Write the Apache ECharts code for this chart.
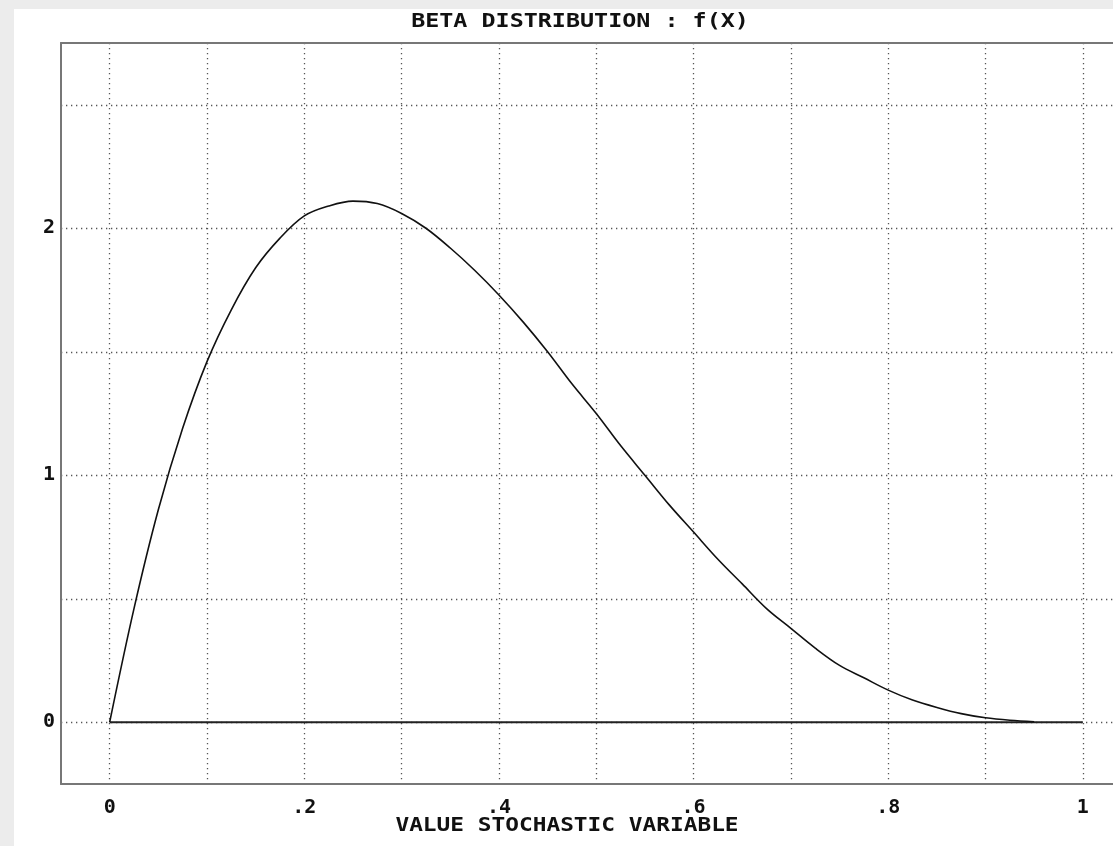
<!DOCTYPE html>
<html>
<head>
<meta charset="utf-8">
<title>Beta distribution</title>
<script src="https://cdn.jsdelivr.net/npm/echarts@6/dist/echarts.min.js"></script>
<style>
  html, body { margin: 0; padding: 0; background: #ececec; overflow: hidden; }
  #beta { position: absolute; left: 14px; top: 9px; width: 1099px; height: 837px; background: #fff; }
</style>
</head>
<body>
<div id="beta"></div>
<script>
// values
const xValues = [0, 0.025, 0.05, 0.075, 0.1, 0.125, 0.15, 0.175, 0.2, 0.225, 0.25, 0.275, 0.3, 0.325, 0.35, 0.375,
  0.4, 0.425, 0.45, 0.475, 0.5, 0.525, 0.55, 0.575, 0.6, 0.625, 0.65, 0.675, 0.7, 0.725, 0.75, 0.775,
  0.8, 0.825, 0.85, 0.875, 0.9, 0.925, 0.95];
const fValues = [0, 0.46, 0.86, 1.19, 1.46, 1.67, 1.84, 1.96, 2.05, 2.09, 2.11, 2.10, 2.06, 2.00, 1.92, 1.83,
  1.73, 1.62, 1.50, 1.37, 1.25, 1.12, 1.00, 0.88, 0.77, 0.66, 0.56, 0.46, 0.38, 0.30, 0.23, 0.18,
  0.13, 0.09, 0.06, 0.035, 0.018, 0.008, 0.002];
const baseX = [0, 1];
const baseY = [0, 0];

// tick / grid positions
const xGridTicks = [0, 0.1, 0.2, 0.3, 0.4, 0.5, 0.6, 0.7, 0.8, 0.9, 1];
const xLabelTicks = [0, 0.2, 0.4, 0.6, 0.8, 1];
const yGridTicks = [0, 0.5, 1, 1.5, 2, 2.5];
const yLabelTicks = [0, 1, 2];

const titleText = 'BETA DISTRIBUTION : f(X)';
const xName = 'VALUE STOCHASTIC VARIABLE';

const monoFont = 'DejaVu Sans Mono';
const frameLine = { show: true, onZero: false, lineStyle: { color: '#777', width: 2 } };

function fmtTick(v) {
  // 0.2 -> ".2"
  let s = String(Math.round(v * 10) / 10);
  if (s.indexOf('0.') === 0) s = s.slice(1);
  return s;
}

let chart = echarts.init(document.getElementById('beta'));
let option = {
  animation: false,
  graphic: [
    {
      type: 'text',
      x: 566, y: 13,
      scaleX: 1.23,
      style: {
        text: titleText,
        font: 'bold 19px "' + monoFont + '"',
        fill: '#111',
        textAlign: 'center',
        textVerticalAlign: 'middle'
      }
    },
    {
      type: 'text',
      x: 553, y: 817,
      scaleX: 1.2,
      style: {
        text: xName,
        font: 'bold 19px "' + monoFont + '"',
        fill: '#111',
        textAlign: 'center',
        textVerticalAlign: 'middle'
      }
    }
  ],
  grid: {
    left: 47,
    top: 34,
    right: 0,
    bottom: 62
  },
  xAxis: [
    {
      type: 'value',
      position: 'bottom',
      min: -0.05,
      max: 1.031,
      axisLine: frameLine,
      axisTick: { show: false, customValues: xGridTicks },
      axisLabel: {
        customValues: xLabelTicks,
        formatter: fmtTick,
        margin: 14,
        color: '#111',
        fontFamily: monoFont,
        fontWeight: 'bold',
        fontSize: 20
      },
      splitLine: {
        show: true,
        lineStyle: { color: '#555', width: 1.3, type: [1.3, 3.7] }
      }
    },
    {
      // top edge of the frame
      type: 'value',
      position: 'top',
      min: -0.05,
      max: 1.031,
      axisLine: frameLine,
      axisTick: { show: false },
      axisLabel: { show: false },
      splitLine: { show: false }
    }
  ],
  yAxis: {
    type: 'value',
    min: -0.25,
    max: 2.75,
    axisLine: frameLine,
    axisTick: { show: false, customValues: yGridTicks },
    axisLabel: {
      customValues: yLabelTicks,
      margin: 6,
      color: '#111',
      fontFamily: monoFont,
      fontWeight: 'bold',
      fontSize: 20
    },
    splitLine: {
      show: true,
      lineStyle: { color: '#555', width: 1.3, type: [1.3, 3.7] }
    }
  },
  series: [
    {
      name: 'base',
      type: 'line',
      showSymbol: false,
      data: baseX.map((x, i) => [x, baseY[i]]),
      lineStyle: { color: '#222', width: 2 },
      z: 3
    },
    {
      name: 'f(X)',
      type: 'line',
      showSymbol: false,
      smooth: 0.35,
      data: xValues.map((x, i) => [x, fValues[i]]),
      lineStyle: { color: '#111', width: 1.6 },
      z: 4
    }
  ]
};
chart.setOption(option);
</script>
</body>
</html>
